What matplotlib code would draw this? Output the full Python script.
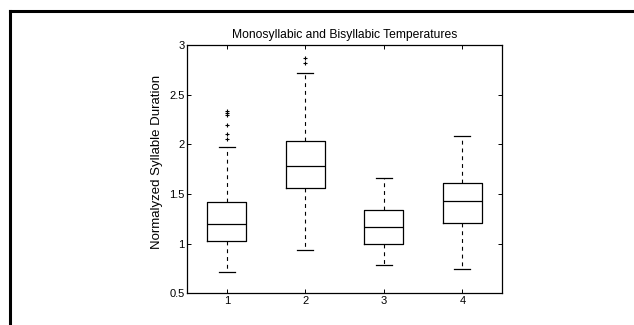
import matplotlib
matplotlib.use("Agg")
from matplotlib import pyplot as plt
from matplotlib.lines import Line2D

plt.rcParams["font.family"] = ["Liberation Sans", "DejaVu Sans"]

# ---- data -------------------------------------------------------------------
groups = ["1", "2", "3", "4"]
whislo = [0.71, 0.94, 0.79, 0.74]
q1 = [1.03, 1.56, 1.00, 1.21]
med = [1.20, 1.78, 1.17, 1.43]
q3 = [1.42, 2.03, 1.34, 1.61]
whishi = [1.97, 2.72, 1.66, 2.08]
fliers = [[2.34, 2.32, 2.30, 2.19, 2.10, 2.05], [2.87, 2.82], [], []]
yticks = [0.5, 1, 1.5, 2, 2.5, 3]
yticklabels = ["0.5", "1", "1.5", "2", "2.5", "3"]

stats = [dict(label=g, whislo=lo, q1=a, med=m, q3=b, whishi=hi, fliers=f)
         for g, lo, a, m, b, hi, f in zip(groups, whislo, q1, med, q3, whishi, fliers)]

fig = plt.figure(figsize=(6.34, 3.25), dpi=100)
ax = fig.add_axes([0.2957, 0.0975, 0.4955, 0.764])

ax.bxp(stats, positions=[1, 2, 3, 4], widths=0.5,
       boxprops=dict(color="black", linewidth=0.9),
       medianprops=dict(color="black", linewidth=0.9),
       whiskerprops=dict(color="black", linewidth=0.8, linestyle=(0, (3.5, 3.5))),
       capprops=dict(color="black", linewidth=0.9),
       capwidths=0.2,
       flierprops=dict(marker="+", markersize=3.5, markeredgecolor="black",
                       markeredgewidth=0.8, linestyle="none"))

ax.set_xlim(0.5, 4.5)
ax.set_ylim(0.5, 3)
ax.set_yticks(yticks)
ax.set_yticklabels(yticklabels)
ax.tick_params(direction="in", top=True, right=True, length=3, width=0.7,
               labelsize=8, pad=2)
for s in ax.spines.values():
    s.set_linewidth(0.9)

ax.set_title("Monosyllabic and Bisyllabic Temperatures", fontsize=8.7, pad=5)
ax.set_ylabel("Normalyzed Syllable Duration", fontsize=9.5)
ax.yaxis.set_label_coords(-0.078, 0.53)

# outer frame lines (top and left only)
fig.add_artist(Line2D([0.0165, 1.0], [0.9655, 0.9655], color="black", lw=2.2,
                      transform=fig.transFigure, solid_capstyle="projecting"))
fig.add_artist(Line2D([0.0165, 0.0165], [0.0, 0.9655], color="black", lw=2.2,
                      transform=fig.transFigure, solid_capstyle="projecting"))

fig.savefig("out.png", dpi=100, facecolor="white")
